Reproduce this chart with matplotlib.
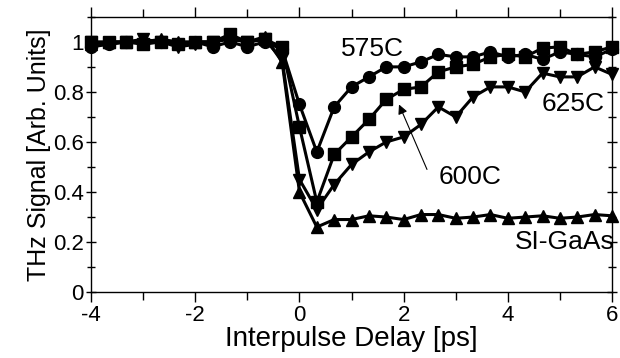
import matplotlib.pyplot as plt
from matplotlib.ticker import MultipleLocator

plt.rcParams['font.family'] = ['Liberation Sans', 'DejaVu Sans']
plt.rcParams['axes.unicode_minus'] = False

# delay points, every 1/3 ps from -4 to 6
delay = [-4 + k / 3 for k in range(31)]

s575 = [0.98, 0.99, 1.00, 1.00, 1.00, 0.99, 1.00, 0.98, 1.00, 0.98, 1.00, 0.97,
        0.75, 0.56, 0.74, 0.82, 0.86, 0.90, 0.90, 0.92, 0.95, 0.94, 0.94, 0.96,
        0.94, 0.95, 0.93, 0.96, 0.95, 0.94, 0.97]
s600 = [1.00, 1.00, 1.00, 0.99, 1.00, 0.99, 1.00, 1.00, 1.03, 1.00, 1.01, 0.98,
        0.66, 0.36, 0.55, 0.62, 0.69, 0.77, 0.81, 0.82, 0.88, 0.90, 0.91, 0.94,
        0.95, 0.94, 0.975, 0.98, 0.95, 0.96, 0.98]
s625 = [1.00, 0.99, 1.00, 1.01, 1.00, 0.98, 0.99, 1.00, 1.01, 1.00, 1.01, 0.93,
        0.45, 0.33, 0.43, 0.51, 0.56, 0.60, 0.62, 0.67, 0.74, 0.70, 0.78, 0.82,
        0.82, 0.80, 0.875, 0.86, 0.86, 0.90, 0.87]
si_gaas = [0.99, 1.00, 1.00, 1.00, 1.01, 1.00, 1.00, 1.00, 1.02, 1.00, 1.02, 0.92,
           0.40, 0.26, 0.29, 0.29, 0.305, 0.30, 0.29, 0.31, 0.31, 0.295, 0.30, 0.31,
           0.295, 0.30, 0.305, 0.295, 0.30, 0.31, 0.305]

fig = plt.figure(figsize=(6.2, 3.58), dpi=100)
ax = fig.add_axes([0.147, 0.184, 0.84, 0.769])

kw = dict(color='black', lw=2.2, markersize=8.5, clip_on=False)
ax.plot(delay, si_gaas, marker='^', **kw)
ax.plot(delay, s625, marker='v', **kw)
ax.plot(delay, s600, marker='s', **kw)
ax.plot(delay, s575, marker='o', **kw)

ax.set_xlim(-4, 6)
ax.set_ylim(0, 1.1)
ax.xaxis.set_major_locator(MultipleLocator(2))
ax.xaxis.set_minor_locator(MultipleLocator(1))
ax.yaxis.set_minor_locator(MultipleLocator(0.1))
ax.set_yticks([0, 0.2, 0.4, 0.6, 0.8, 1.0], ['0', '0.2', '0.4', '0.6', '0.8', '1'])
ax.tick_params(which='both', top=True, right=True, direction='out', labelsize=16, width=1)
ax.tick_params(which='major', length=7, pad=2)
ax.tick_params(which='minor', length=6)
ax.tick_params(axis='y', which='both', direction='inout')
for sp in ax.spines.values():
    sp.set_linewidth(1)

ax.set_xlabel('Interpulse Delay [ps]', fontsize=20, labelpad=0)
ax.set_ylabel('THz Signal [Arb. Units]', fontsize=18, labelpad=1)

ax.text(1.41, 0.97, '575C', fontsize=19, ha='center', va='center')
ax.text(5.25, 0.75, '625C', fontsize=19, ha='center', va='center')
ax.text(3.27, 0.46, '600C', fontsize=19, ha='center', va='center')
ax.text(5.1, 0.20, 'SI-GaAs', fontsize=19, ha='center', va='center')
ax.annotate('', xy=(1.89, 0.76), xytext=(2.47, 0.48),
            arrowprops=dict(arrowstyle='-|>', color='black', lw=0.8, mutation_scale=14))

fig.savefig('out.png')
